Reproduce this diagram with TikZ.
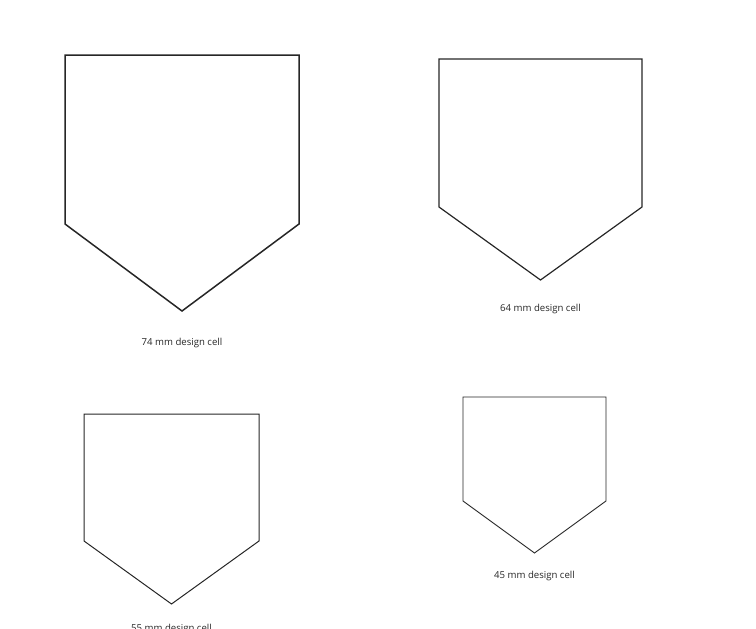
\documentclass[tikz,border=0pt]{standalone}
\usepackage{fontspec}
\setmainfont{Open Sans}
\begin{document}
\begin{tikzpicture}[x=1pt,y=-1pt,
	cellline/.style={draw=black!85,line join=miter},
	celllabel/.style={font=\fontsize{9.6}{11}\selectfont,text=black!85,inner sep=0pt}]
		% Canvas
		\useasboundingbox (0,0) rectangle (756,629);
		\clip (0,0) rectangle (756,629);
		
		% Design cells: left, right, top, shoulder, tip, label, line width, name
		\foreach \l/\r/\t/\s/\p/\y/\w/\n/\m in {
			65/299/55/224/311/343/1.5/cellA/74,
			439/642/59/207/280/309/1.2/cellB/64,
			84/259/414/541/604/629/1.0/cellC/55,
			463/606/397/501/553/576/0.9/cellD/45} {
			\draw[cellline,line width=\w pt] (\l,\t) -- (\r,\t) -- (\r,\s)
				-- ({(\l+\r)/2},\p) -- (\l,\s) -- cycle;
			\node[celllabel] (\n) at ({(\l+\r)/2},\y) {\m{} mm design cell};
		}
	\end{tikzpicture}
\end{document}
